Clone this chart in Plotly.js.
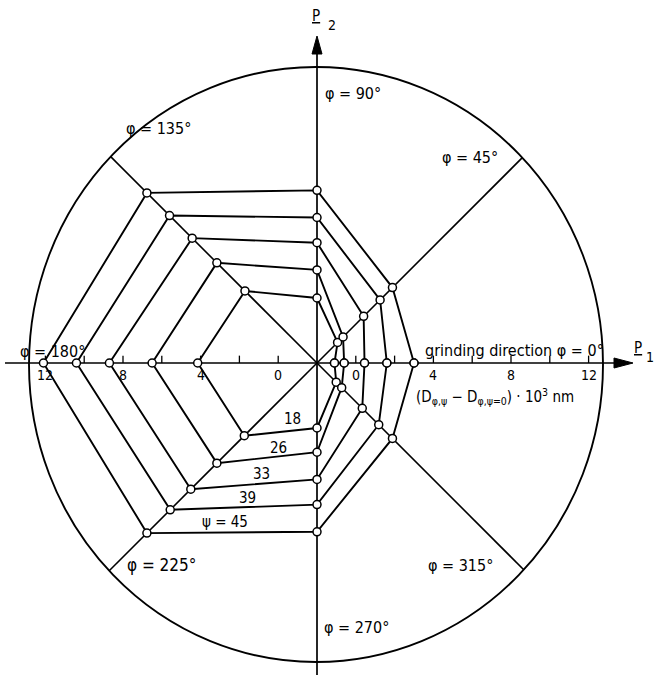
<!DOCTYPE html>
<html><head><meta charset="utf-8">
<script src="https://cdn.plot.ly/plotly-3.0.1.min.js"></script>
<style>html,body{margin:0;padding:0;background:#fff}</style>
</head><body><div id="chart" style="width:660px;height:675px"></div>
<script>
// azimuth angles phi (degrees)
const phiDeg = [0, 45, 90, 135, 180, 225, 270, 315];
// series: (D_phi,psi - D_phi,psi=0) * 10^3 nm for each tilt angle psi
const psiNames = ['18', '26', '33', '39', 'ψ = 45'];
const psi18 = [-1.1, -0.5, 1.35, 3.25, 4.15, 3.3, 1.35, -0.6];
const psi26 = [-0.6, -0.1, 2.8, 5.3, 6.5, 5.3, 2.6, -0.2];
const psi33 = [0.45, 1.4, 4.2, 7.1, 8.7, 7.2, 4.0, 1.3];
const psi39 = [1.6, 2.6, 5.5, 8.75, 10.4, 8.7, 5.3, 2.5];
const psi45 = [3.0, 3.5, 6.9, 10.4, 12.1, 10.4, 6.7, 3.5];
const tickValues = [0, 2, 4, 6, 8, 10, 12];
const tickLabelValues = [0, 4, 8, 12];
const centerValue = -2;        // value at the pole
const radialLineAngles = [45, 135, 225, 315];

// pixel geometry helpers (layout only)
const S = 19.4, CX = 317, CY = 363, W = 660, H = 675;
const px = p => (p - CX) / S;
const py = p => (CY - p) / S;

function toXY(v, deg) {
  const r = v - centerValue, a = deg * Math.PI / 180;
  return [r * Math.cos(a), r * Math.sin(a)];
}

const series = [psi18, psi26, psi33, psi39, psi45];
const traces = [];

// outer circle (slightly elliptical in the scan)
const ex0 = px(29), ex1 = px(603), ey0 = py(662), ey1 = py(67);
const ecx = (ex0 + ex1) / 2, ecy = (ey0 + ey1) / 2, erx = (ex1 - ex0) / 2, ery = (ey1 - ey0) / 2;

// radial lines at 45,135,225,315 from pole to circle
const rx = [], ry = [];
radialLineAngles.forEach(d => {
  const a = d * Math.PI / 180, c = Math.cos(a), s = Math.sin(a);
  const A = (c * c) / (erx * erx) + (s * s) / (ery * ery);
  const B = 2 * (c * (0 - ecx) / (erx * erx) + s * (0 - ecy) / (ery * ery));
  const Cc = (ecx * ecx) / (erx * erx) + (ecy * ecy) / (ery * ery) - 1;
  const t = (-B + Math.sqrt(B * B - 4 * A * Cc)) / (2 * A);
  rx.push(0, t * c, null); ry.push(0, t * s, null);
});
traces.push({x: rx, y: ry, mode: 'lines', line: {color: '#000', width: 1.6}, hoverinfo: 'skip'});

// axes lines
traces.push({x: [px(5), px(620), null, 0, 0], y: [0, 0, null, py(675), py(45)], mode: 'lines',
  line: {color: '#000', width: 1.7}, hoverinfo: 'skip'});

// tick marks on both sides
const tx = [], ty = [];
tickValues.forEach(t => {
  const r = t - centerValue;
  tx.push(-r, -r, null, r, r, null);
  ty.push(0, 0.38, null, 0, 0.38, null);
});
traces.push({x: tx, y: ty, mode: 'lines', line: {color: '#000', width: 1.3}, hoverinfo: 'skip'});

// polygons
series.forEach((vals, i) => {
  const xs = [], ys = [];
  vals.forEach((v, j) => { const p = toXY(v, phiDeg[j]); xs.push(p[0]); ys.push(p[1]); });
  xs.push(xs[0]); ys.push(ys[0]);
  traces.push({x: xs, y: ys, mode: 'lines+markers', name: psiNames[i],
    line: {color: '#000', width: 1.9},
    marker: {symbol: 'circle', size: 8, color: '#fff', line: {color: '#000', width: 1.5}}});
});

const F = 'DejaVu Sans Condensed, Liberation Sans Narrow, DejaVu Sans, sans-serif';
const ann = [];
function lab(text, x, y, size, xanchor) {
  ann.push({text: text, x: x, y: y, xref: 'x', yref: 'y', showarrow: false,
    xanchor: xanchor || 'center', yanchor: 'middle', font: {family: F, size: size || 15, color: '#000'}});
}
// tick labels
tickLabelValues.forEach(t => {
  const r = t - centerValue;
  lab(String(t), -r, py(375), 14);
  lab(String(t), r, py(375), 14);
});
// angle labels
lab('φ = 90°', px(323), py(93), 16, 'left');
lab('φ = 45°', px(440), py(157), 16, 'left');
lab('φ = 135°', px(124), py(128), 16, 'left');
lab('φ = 180°', px(18), py(351), 16, 'left');
lab('grinding direction φ = 0°', px(423), py(350), 16, 'left');
lab('(D<sub><span style="color:#000">φ,ψ</span></sub> − D<sub><span style="color:#000">φ,ψ=0</span></sub>) · 10<sup>3</sup> nm', px(414), py(396), 15, 'left');
lab('φ = 225°', px(125), py(565), 17, 'left');
lab('φ = 315°', px(426), py(565), 16, 'left');
lab('φ = 270°', px(322), py(627), 16, 'left');
// psi labels
lab(psiNames[0], px(292), py(419), 15);
lab(psiNames[1], px(278), py(448), 15);
lab(psiNames[2], px(261), py(474), 15);
lab(psiNames[3], px(247), py(498), 15);
lab(psiNames[4], px(225), py(522), 15);
// axis names
lab('<u>P</u>', px(316), py(16), 15);
lab('2', px(332), py(25), 14);
lab('<u>P</u>', px(638), py(348), 15);
lab('1', px(650), py(357), 14);

const shapes = [
  {type: 'circle', xref: 'x', yref: 'y', x0: ex0, x1: ex1, y0: ey0, y1: ey1, line: {color: '#000', width: 1.9}, layer: 'below'},
  {type: 'path', xref: 'x', yref: 'y', path: `M ${px(633)} 0 L ${px(614)} ${py(358)} L ${px(614)} ${py(368)} Z`, fillcolor: '#000', line: {color: '#000', width: 1}},
  {type: 'path', xref: 'x', yref: 'y', path: `M 0 ${py(36)} L ${px(312)} ${py(54)} L ${px(322)} ${py(54)} Z`, fillcolor: '#000', line: {color: '#000', width: 1}}
];

const layout = {
  width: W, height: H, margin: {l: 0, r: 0, t: 0, b: 0},
  paper_bgcolor: '#fff', plot_bgcolor: '#fff', showlegend: false,
  xaxis: {range: [px(0), px(W)], visible: false, fixedrange: true},
  yaxis: {range: [py(H), py(0)], visible: false, fixedrange: true},
  shapes: shapes, annotations: ann
};
Plotly.newPlot('chart', traces, layout, {displayModeBar: false, staticPlot: true});
</script></body></html>
